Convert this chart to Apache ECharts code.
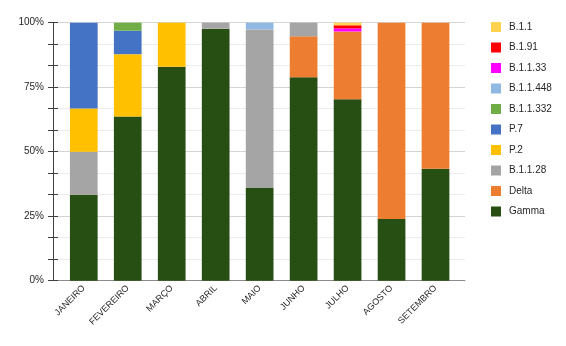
<!DOCTYPE html>
<html>
<head>
<meta charset="utf-8">
<script src="https://cdn.jsdelivr.net/npm/echarts@6/dist/echarts.min.js"></script>
<style>
  html, body { margin: 0; padding: 0; background: #fff; }
  #chart { width: 566px; height: 346px; }
</style>
</head>
<body>
<div id="chart"></div>
<script>
// Months (categories)
var months = ['JANEIRO', 'FEVEREIRO', 'MARÇO', 'ABRIL', 'MAIO', 'JUNHO', 'JULHO', 'AGOSTO', 'SETEMBRO'];

// Share of each lineage per month (%), stacked bottom to top
var gamma    = [33.3, 63.6, 82.9, 97.7, 35.9, 78.9, 70.3, 23.9, 43.4];
var delta    = [0, 0, 0, 0, 0, 15.8, 26.3, 76.1, 56.6];
var b1128    = [16.7, 0, 0, 2.3, 61.5, 5.3, 0, 0, 0];
var p2       = [16.7, 24.2, 17.1, 0, 0, 0, 0, 0, 0];
var p7       = [33.3, 9.1, 0, 0, 0, 0, 0, 0, 0];
var b11332   = [0, 3.1, 0, 0, 0, 0, 0, 0, 0];
var b11448   = [0, 0, 0, 0, 2.6, 0, 0, 0, 0];
var b1133    = [0, 0, 0, 0, 0, 0, 1.2, 0, 0];
var b191     = [0, 0, 0, 0, 0, 0, 1.2, 0, 0];
var b11      = [0, 0, 0, 0, 0, 0, 1.0, 0, 0];

// Y axis tick labels
var yTicks = ['0%', '25%', '50%', '75%', '100%'];

var stackDefs = [
  { name: 'Gamma',     data: gamma,  color: '#274E13' },
  { name: 'Delta',     data: delta,  color: '#ED7D31' },
  { name: 'B.1.1.28',  data: b1128,  color: '#A5A5A5' },
  { name: 'P.2',       data: p2,     color: '#FFC000' },
  { name: 'P.7',       data: p7,     color: '#4472C4' },
  { name: 'B.1.1.332', data: b11332, color: '#70AD47' },
  { name: 'B.1.1.448', data: b11448, color: '#8FB9E3' },
  { name: 'B.1.1.33',  data: b1133,  color: '#FF00FF' },
  { name: 'B.1.91',    data: b191,   color: '#FF0000' },
  { name: 'B.1.1',     data: b11,    color: '#FFD24F' }
];

var font = 'Liberation Sans, Arial, sans-serif';

var series = stackDefs.map(function (s) {
  return {
    name: s.name,
    type: 'bar',
    stack: 'total',
    xAxisIndex: 1,
    yAxisIndex: 2,
    barWidth: '63%',
    itemStyle: { color: s.color },
    emphasis: { disabled: true },
    data: s.data
  };
});

var chart = echarts.init(document.getElementById('chart'), null, { renderer: 'canvas' });
chart.setOption({
  animation: false,
  backgroundColor: '#ffffff',
  legend: {
    orient: 'vertical',
    left: 486,
    top: 17,
    icon: 'rect',
    itemWidth: 10,
    itemHeight: 10,
    itemGap: 10.5,
    selectedMode: false,
    textStyle: { fontFamily: font, fontSize: 10, color: '#262626', padding: [0, 0, 0, 3] },
    data: stackDefs.map(function (s) { return s.name; }).reverse()
  },
  grid: [
    { left: 53, right: 101, top: 22.7, bottom: 65.3 },
    { left: 61.8, right: 108.5, top: 22.7, bottom: 65.3 }
  ],
  xAxis: [
    {
      gridIndex: 0, type: 'value', min: 0, max: 1,
      axisLine: { show: true, lineStyle: { color: '#8c8c8c', width: 1 } },
      axisTick: { show: false }, axisLabel: { show: false }, splitLine: { show: false }
    },
    {
      gridIndex: 1, type: 'category', data: months,
      axisLine: { show: false }, axisTick: { show: false },
      axisLabel: {
        interval: 0, rotate: 45, margin: 6,
        fontFamily: font, fontSize: 9, color: '#262626'
      }
    }
  ],
  yAxis: [
    {
      gridIndex: 0, type: 'value', min: 0, max: 100, interval: 25, position: 'left', offset: 0,
      axisLine: { show: true, lineStyle: { color: '#404040', width: 1 } },
      axisTick: { show: true, length: 5, lineStyle: { color: '#404040' } },
      minorTick: { show: true, splitNumber: 3, length: 5, lineStyle: { color: '#404040' } },
      axisLabel: {
        margin: 9, fontFamily: font, fontSize: 10, color: '#262626',
        formatter: function (v) { return yTicks[Math.round(v / 25)]; }
      },
      splitLine: { show: true, lineStyle: { color: '#d4d4d4', width: 1 } },
      minorSplitLine: { show: true, lineStyle: { color: '#ececec', width: 1 } }
    },
    {
      gridIndex: 0, type: 'value', min: 0, max: 100, interval: 25, position: 'left', offset: 0,
      axisLine: { show: false },
      axisTick: { show: true, inside: true, length: 5, lineStyle: { color: '#404040' } },
      minorTick: { show: true, splitNumber: 3, length: 5, lineStyle: { color: '#404040' } },
      axisLabel: { show: false },
      splitLine: { show: false }
    },
    {
      gridIndex: 1, type: 'value', min: 0, max: 100, show: false
    }
  ],
  series: series
});
</script>
</body>
</html>
